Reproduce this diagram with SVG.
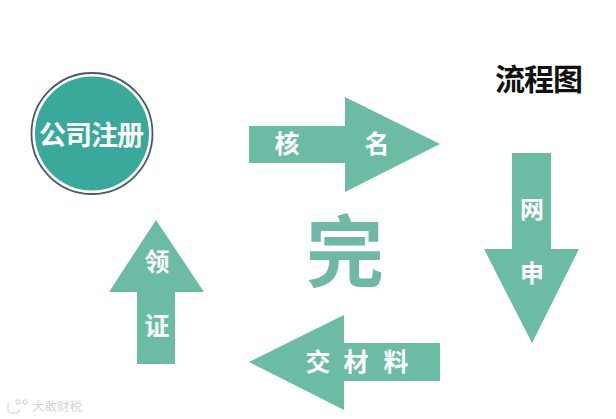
<svg xmlns="http://www.w3.org/2000/svg" width="616" height="419" viewBox="0 0 616 419">
<style>
.a{fill:#6cbba4}
.t{font-family:"Noto Sans CJK SC",sans-serif;font-weight:700;text-anchor:middle}
.w{fill:#fff}
.g{fill:#6fb8a5}
.m{fill:none;stroke:#dcdcdc;stroke-width:1.3}
</style>
<rect width="616" height="419" fill="#fff"/>
<g id="node-company">
<circle cx="92" cy="133.500" r="60.500" fill="#fff" stroke="#4a5a62" stroke-width="1.800"/>
<circle cx="92" cy="133.500" r="57" fill="#3aa89a"/>
<text class="t w" x="91" y="145" font-size="27" font-weight="900" letter-spacing="-1">公司注册</text>
</g>
<g id="connectors">
<polygon id="arrow-right" class="a" points="249,126 345,126 345,97 440,144 345,192 345,163 249,163"/>
<polygon id="arrow-down" class="a" points="512,153 551,153 551,249 579,249 532,343 484,249 512,249"/>
<polygon id="arrow-left" class="a" points="440,343 440,381 344,381 344,410 249,362 344,315 344,343"/>
<polygon id="arrow-up" class="a" points="137,364 175,364 175,292 204,292 156,220 109,292 137,292"/>
</g>
<g id="label-hem"><text class="t w" x="287" y="153" font-size="25">核</text><text class="t w" x="377" y="153" font-size="25">名</text></g>
<g id="label-wang"><text class="t w" x="532" y="218" font-size="24">网</text><text class="t w" x="532" y="282" font-size="24">申</text></g>
<g id="label-jiao"><text class="t w" x="318" y="371" font-size="25">交</text><text class="t w" x="356" y="371" font-size="25">材</text><text class="t w" x="396" y="371" font-size="25">料</text></g>
<g id="label-ling"><text class="t w" x="157" y="271" font-size="25">领</text><text class="t w" x="157" y="335" font-size="25">证</text></g>
<g id="node-done"><text class="t g" x="345" y="281" font-size="78">完</text></g>
<g id="node-title"><text class="t" x="538.500" y="90" font-size="30" font-weight="900" fill="#111" letter-spacing="-1">流程图</text></g>
<g id="watermark">
<text x="32" y="411" font-family="'Noto Sans CJK SC',sans-serif" font-size="12.500" fill="#d4d4d4">大敢财税</text>
<path class="m" d="M8,402 v7 q0,4 4,4 h4 q3,0 4,-4"/>
<circle class="m" cx="18" cy="402" r="2"/><circle class="m" cx="25" cy="402" r="2"/>
</g>
</svg>
